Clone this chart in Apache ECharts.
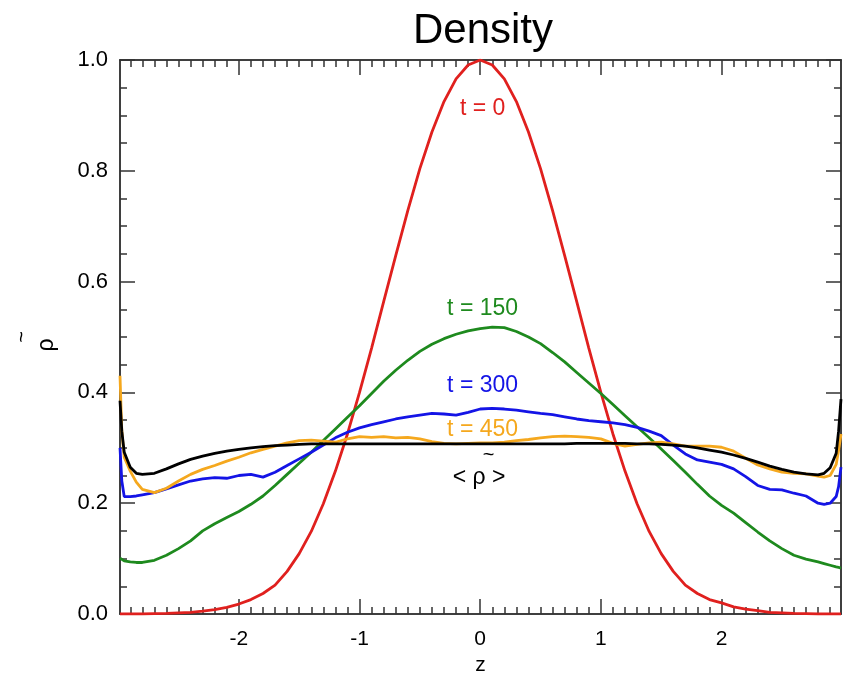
<!DOCTYPE html>
<html>
<head>
<meta charset="utf-8">
<script src="https://cdn.jsdelivr.net/npm/echarts@6/dist/echarts.min.js"></script>
<style>html,body{margin:0;padding:0;background:#fff}#c{width:848px;height:675px}</style>
</head>
<body>
<div id="c"></div>
<script>
// ---- data ----
const zValues = [-2.985,-2.97,-2.95,-2.9,-2.85,-2.8,-2.7,-2.6,-2.5,-2.4,-2.3,-2.2,-2.1,-2.0,-1.9,-1.8,-1.7,-1.6,-1.5,-1.4,-1.3,-1.2,-1.1,-1.0,-0.9,-0.8,-0.7,-0.6,-0.5,-0.4,-0.3,-0.2,-0.1,0,0.1,0.2,0.3,0.4,0.5,0.6,0.7,0.8,0.9,1.0,1.1,1.2,1.3,1.4,1.5,1.6,1.7,1.8,1.9,2.0,2.1,2.2,2.3,2.4,2.5,2.6,2.7,2.8,2.85,2.9,2.95,2.97,2.99];

const rhoT0 = [0,0,0,0,0,0,0.0005,0.001,0.002,0.003,0.005,0.008,0.012,0.018,0.026,0.037,0.052,0.077,0.109,0.149,0.199,0.258,0.325,0.400,0.480,0.564,0.647,0.728,0.804,0.870,0.925,0.966,0.991,1.000,0.991,0.966,0.925,0.870,0.804,0.728,0.647,0.564,0.480,0.400,0.325,0.258,0.199,0.149,0.109,0.077,0.052,0.037,0.026,0.020,0.013,0.009,0.006,0.003,0.002,0.001,0.0005,0,0,0,0,0,0];

const rhoT150 = [0.101,0.098,0.096,0.094,0.093,0.093,0.097,0.106,0.118,0.132,0.150,0.163,0.174,0.185,0.198,0.213,0.232,0.252,0.272,0.292,0.313,0.334,0.355,0.376,0.398,0.420,0.440,0.458,0.474,0.487,0.497,0.505,0.511,0.515,0.518,0.517,0.510,0.500,0.488,0.472,0.455,0.436,0.417,0.398,0.378,0.358,0.338,0.318,0.298,0.277,0.256,0.234,0.213,0.196,0.182,0.165,0.148,0.132,0.118,0.106,0.099,0.094,0.091,0.088,0.085,0.084,0.083];

const rhoT300 = [0.300,0.240,0.212,0.212,0.213,0.215,0.219,0.226,0.233,0.240,0.244,0.246,0.245,0.250,0.252,0.247,0.256,0.268,0.280,0.292,0.305,0.318,0.328,0.336,0.342,0.347,0.352,0.356,0.359,0.362,0.361,0.359,0.364,0.370,0.371,0.370,0.368,0.365,0.362,0.360,0.356,0.352,0.349,0.347,0.345,0.342,0.337,0.330,0.322,0.305,0.289,0.278,0.274,0.270,0.262,0.248,0.232,0.225,0.224,0.218,0.213,0.200,0.198,0.200,0.212,0.230,0.265];

const rhoT450 = [0.430,0.330,0.283,0.258,0.238,0.225,0.219,0.227,0.240,0.252,0.261,0.268,0.276,0.283,0.291,0.297,0.303,0.309,0.313,0.314,0.312,0.310,0.316,0.320,0.319,0.320,0.318,0.319,0.316,0.311,0.308,0.307,0.308,0.309,0.309,0.310,0.313,0.315,0.318,0.320,0.321,0.320,0.319,0.316,0.308,0.303,0.306,0.309,0.310,0.307,0.303,0.303,0.303,0.301,0.294,0.281,0.269,0.262,0.256,0.254,0.253,0.249,0.247,0.250,0.270,0.295,0.325];

const rhoMean = [0.385,0.330,0.292,0.265,0.254,0.252,0.254,0.262,0.271,0.279,0.285,0.290,0.294,0.297,0.300,0.302,0.304,0.305,0.306,0.307,0.307,0.307,0.307,0.307,0.307,0.307,0.307,0.307,0.307,0.307,0.307,0.307,0.307,0.307,0.307,0.307,0.307,0.307,0.307,0.307,0.307,0.308,0.308,0.308,0.308,0.308,0.307,0.307,0.306,0.305,0.303,0.300,0.296,0.292,0.287,0.281,0.274,0.267,0.261,0.256,0.253,0.251,0.254,0.264,0.290,0.330,0.388];

const xTickLabels = [-2,-1,0,1,2];
const yTickLabels = [0,0.2,0.4,0.6,0.8,1.0];

const annotations = [
  {text:'t = 0',   z:0.02,  rho:0.912, color:'#e0201e'},
  {text:'t = 150', z:0.02,  rho:0.552, color:'#1e8a1e'},
  {text:'t = 300', z:0.02,  rho:0.413, color:'#1414e6'},
  {text:'t = 450', z:0.02,  rho:0.332, color:'#f5a81e'},
  {text:'< ρ >',   z:-0.01, rho:0.247, color:'#000'},
  {text:'~',       z:0.07,  rho:0.287, color:'#000'}
];

// ---- chart ----
const FONT = '"Liberation Sans", Arial, Helvetica, sans-serif';
const X_MIN = -2.985, X_MAX = 2.99;
const xMinor = [];
for (let i = -29; i <= 29; i++) { if (i % 10 !== 0) xMinor.push(i / 10); }
const yMinor = [];
for (let i = 1; i < 20; i++) { if (i % 4 !== 0) yMinor.push(i * 0.05); }

const lineC = '#333';
function xAx(pos, ticks, len, labels, extra) {
  return Object.assign({
    type:'value', min:X_MIN, max:X_MAX, position:pos, gridIndex:0,
    axisLine:{show:true, onZero:false, lineStyle:{color:lineC, width:1.5}},
    axisTick:{show:true, inside:true, length:len, customValues:ticks, lineStyle:{color:lineC, width:1.5}},
    axisLabel: labels ? {show:true, customValues:labels, margin:15, fontSize:21, color:'#000', fontFamily:FONT} : {show:false},
    splitLine:{show:false}
  }, extra||{});
}
function yAx(pos, ticks, len, labels, extra) {
  return Object.assign({
    type:'value', min:0, max:1, position:pos, gridIndex:0,
    axisLine:{show:true, onZero:false, lineStyle:{color:lineC, width:1.5}},
    axisTick:{show:true, inside:true, length:len, customValues:ticks, lineStyle:{color:lineC, width:1.5}},
    axisLabel: labels ? {show:true, customValues:labels, margin:12, fontSize:22, color:'#000', fontFamily:FONT,
      formatter:(v)=>v.toFixed(1)} : {show:false},
    splitLine:{show:false}
  }, extra||{});
}

function pairs(vals){ return zValues.map((z,i)=>[z, vals[i]]); }
function mkLine(name, vals, color){
  return {name, type:'line', xAxisIndex:0, yAxisIndex:0, data:pairs(vals), symbol:'none',
    lineStyle:{color, width:2.8}, itemStyle:{color}, clip:true, animation:false, z:2};
}

const chart = echarts.init(document.getElementById('c'), null, {renderer:'canvas'});
chart.setOption({
  animation:false,
  backgroundColor:'#fff',
  grid:{left:120, right:7, top:60, bottom:61, outerBoundsMode:'none', containLabel:false},
  xAxis:[
    xAx('bottom', xTickLabels, 15, xTickLabels, {name:'z', nameLocation:'middle', nameGap:40,
      nameTextStyle:{fontSize:21, color:'#000', fontFamily:FONT}}),
    xAx('bottom', xMinor, 7, null),
    xAx('top', xTickLabels, 15, null),
    xAx('top', xMinor, 7, null)
  ],
  yAxis:[
    yAx('left', yTickLabels, 15, yTickLabels, {name:'ρ', nameLocation:'middle', nameGap:62, nameRotate:90,
      nameTextStyle:{fontSize:23, color:'#000', fontFamily:FONT, padding:[0,16,0,0]}}),
    yAx('left', yMinor, 7, null, {name:'~', nameLocation:'middle', nameGap:88, nameRotate:90,
      nameTextStyle:{fontSize:20, color:'#000', fontFamily:FONT}}),
    yAx('right', yTickLabels, 15, null),
    yAx('right', yMinor, 7, null)
  ],
  series:[
    mkLine('t = 0', rhoT0, '#e0201e'),
    mkLine('t = 150', rhoT150, '#1e8a1e'),
    mkLine('t = 300', rhoT300, '#1414e6'),
    mkLine('t = 450', rhoT450, '#f5a81e'),
    mkLine('mean', rhoMean, '#000')
  ]
});

const g = [
  {type:'text', x:483, y:31, style:{text:'Density', fontSize:42, fontFamily:FONT, fill:'#000', textAlign:'center', textVerticalAlign:'middle'}}
];
annotations.forEach(a=>{
  const p = chart.convertToPixel({gridIndex:0}, [a.z, a.rho]);
  g.push({type:'text', x:p[0], y:p[1], z:10, style:{text:a.text, fontSize:a.text==='~'?20:23, fontFamily:FONT, fill:a.color, textAlign:'center', textVerticalAlign:'middle'}});
});
chart.setOption({graphic:g});
</script>
</body>
</html>
